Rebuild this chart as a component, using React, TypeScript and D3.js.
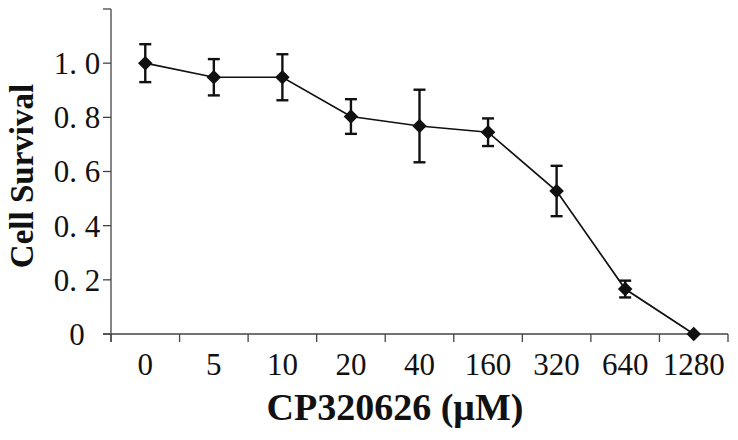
import React from "react";
import * as d3 from "d3";

const concentrations = ["0", "5", "10", "20", "40", "160", "320", "640", "1280"];
const survival = [1.0, 0.948, 0.948, 0.803, 0.768, 0.745, 0.528, 0.166, 0.0];
const errors = [0.07, 0.067, 0.085, 0.064, 0.134, 0.051, 0.093, 0.031, 0];
const yTicks = [0, 0.2, 0.4, 0.6, 0.8, 1.0, 1.2];
const yLabels = ["0", "0. 2", "0. 4", "0. 6", "0. 8", "1. 0", ""];

export default function App() {
  const width = 738;
  const height = 440;
  const margin = { top: 9, right: 10, bottom: 106, left: 111 };
  const axisColor = "#444";
  const font = "'Liberation Serif', 'Times New Roman', serif";

  const x = d3
    .scaleBand()
    .domain(concentrations)
    .range([margin.left, width - margin.right])
    .padding(0);

  const y = d3
    .scaleLinear()
    .domain([0, 1.2])
    .range([height - margin.bottom, margin.top]);

  const cx = (i: number) => (x(concentrations[i]) as number) + x.bandwidth() / 2;

  const line = d3
    .line<number>()
    .x((d, i) => cx(i))
    .y((d) => y(d));

  const diamond = d3.symbol().type(d3.symbolDiamond2).size(135)();

  // tick marks sit between categories, Excel style
  const xTickPos = concentrations.map((c) => x(c) as number).concat(x.range()[1]);
  const y0 = y(0);

  return (
    <div style={{ position: "fixed", left: 0, top: 0 }}>
      <svg width={width} height={height} style={{ display: "block", background: "#fff" }}>
        {/* y axis */}
        <line x1={margin.left} x2={margin.left} y1={y(1.2)} y2={y0 + 8} stroke={axisColor} strokeWidth={1.3} />
        {yTicks.map((t, i) => (
          <g key={"yt" + i}>
            <line x1={margin.left - 8} x2={margin.left} y1={y(t)} y2={y(t)} stroke={axisColor} strokeWidth={1.3} />
            <text
              x={77}
              y={y(t)}
              dy="0.35em"
              textAnchor="middle"
              fontFamily={font}
              fontSize={31}
              fill="#111"
              style={{ whiteSpace: "pre" }}
            >
              {yLabels[i]}
            </text>
          </g>
        ))}

        {/* x axis */}
        <line x1={margin.left - 8} x2={x.range()[1]} y1={y0} y2={y0} stroke={axisColor} strokeWidth={1.3} />
        {xTickPos.map((p, i) => (
          <line key={"xt" + i} x1={p} x2={p} y1={y0} y2={y0 + 8} stroke={axisColor} strokeWidth={1.3} />
        ))}
        {concentrations.map((c, i) => (
          <text key={"xl" + c} x={cx(i)} y={375} textAnchor="middle" fontFamily={font} fontSize={31} fill="#111">
            {c}
          </text>
        ))}

        {/* axis titles */}
        <text
          x={395}
          y={420}
          textAnchor="middle"
          fontFamily={font}
          fontWeight="bold"
          fontSize={38}
          fill="#111"
        >
          CP320626 (μM)
        </text>
        <text
          transform={`translate(33, 176) rotate(-90)`}
          textAnchor="middle"
          fontFamily={font}
          fontWeight="bold"
          fontSize={33}
          fill="#111"
        >
          Cell Survival
        </text>

        {/* error bars */}
        {survival.map((v, i) =>
          errors[i] > 0 ? (
            <g key={"eb" + i} stroke="#111" strokeWidth={2.4}>
              <line x1={cx(i)} x2={cx(i)} y1={y(v + errors[i])} y2={y(v - errors[i])} />
              <line x1={cx(i) - 6} x2={cx(i) + 6} y1={y(v + errors[i])} y2={y(v + errors[i])} />
              <line x1={cx(i) - 6} x2={cx(i) + 6} y1={y(v - errors[i])} y2={y(v - errors[i])} />
            </g>
          ) : null
        )}

        {/* series line */}
        <path d={line(survival) as string} fill="none" stroke="#111" strokeWidth={1.7} />

        {/* markers */}
        {survival.map((v, i) => (
          <path key={"m" + i} d={diamond as string} transform={`translate(${cx(i)},${y(v)})`} fill="#111" />
        ))}
      </svg>
    </div>
  );
}
